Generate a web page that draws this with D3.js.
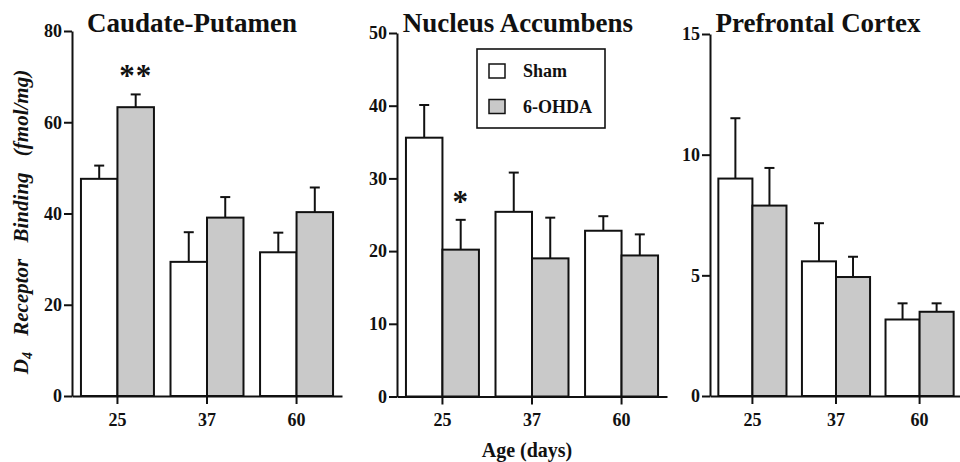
<!DOCTYPE html>
<html><head><meta charset="utf-8">
<script src="https://cdn.jsdelivr.net/npm/d3@7"></script>
<style>
body{margin:0;background:#fff;}
svg text{font-family:"Liberation Serif","Times New Roman",serif;font-weight:bold;fill:#111;}
</style></head>
<body><svg id="c" width="960" height="462"></svg>
<script>
// ---- data ----
const ages = ["25", "37", "60"];
const seriesNames = ["Sham", "6-OHDA"];
const regions = ["Caudate-Putamen", "Nucleus Accumbens", "Prefrontal Cortex"];
const shamCP = [47.6, 29.4, 31.5];
const shamCPErr = [2.9, 6.5, 4.3];
const ohdaCP = [63.3, 39.1, 40.3];
const ohdaCPErr = [2.8, 4.5, 5.4];
const shamNA = [35.6, 25.4, 22.8];
const shamNAErr = [4.5, 5.4, 2.0];
const ohdaNA = [20.2, 19.0, 19.4];
const ohdaNAErr = [4.1, 5.6, 2.9];
const shamPC = [9.01, 5.58, 3.17];
const shamPCErr = [2.5, 1.58, 0.67];
const ohdaPC = [7.89, 4.93, 3.49];
const ohdaPCErr = [1.56, 0.84, 0.35];
const ticksCP = [0, 20, 40, 60, 80];
const ticksNA = [0, 10, 20, 30, 40, 50];
const ticksPC = [0, 5, 10, 15];
const sigCP = ["**", "", ""];
const sigNA = ["*", "", ""];
const sigPC = ["", "", ""];
const yTitle = "D4 Receptor Binding (fmol/mg)";
const xTitle = "Age (days)";

// ---- layout ----
const panels = [
  {name: regions[0], sham: shamCP, shamErr: shamCPErr, ohda: ohdaCP, ohdaErr: ohdaCPErr, ticks: ticksCP, sig: sigCP, x0: 72, x1: 342, yb: 396, yt: 31, tx: 192},
  {name: regions[1], sham: shamNA, shamErr: shamNAErr, ohda: ohdaNA, ohdaErr: ohdaNAErr, ticks: ticksNA, sig: sigNA, x0: 397, x1: 667, yb: 396.5, yt: 33, tx: 518},
  {name: regions[2], sham: shamPC, shamErr: shamPCErr, ohda: ohdaPC, ohdaErr: ohdaPCErr, ticks: ticksPC, sig: sigPC, x0: 710, x1: 962, yb: 396, yt: 34, tx: 818}
];
const fills = {"Sham": "#ffffff", "6-OHDA": "#c9c9c9"};
const svg = d3.select("#c");

panels.forEach(p => {
  const g = svg.append("g");
  const x = d3.scaleBand().domain(ages).range([p.x0, p.x1]).paddingInner(0.185).paddingOuter(0.1);
  const xs = d3.scaleBand().domain(seriesNames).range([0, x.bandwidth()]);
  const y = d3.scaleLinear().domain([0, d3.max(p.ticks)]).range([p.yb, p.yt]);

  const rows = [];
  ages.forEach((a, i) => {
    rows.push({age: a, s: "Sham", v: p.sham[i], e: p.shamErr[i], sig: ""});
    rows.push({age: a, s: "6-OHDA", v: p.ohda[i], e: p.ohdaErr[i], sig: p.sig[i]});
  });

  const eb = g.selectAll(".eb").data(rows).enter().append("g");
  eb.append("line")
    .attr("x1", d => x(d.age) + xs(d.s) + xs.bandwidth() / 2)
    .attr("x2", d => x(d.age) + xs(d.s) + xs.bandwidth() / 2)
    .attr("y1", d => y(d.v)).attr("y2", d => y(d.v + d.e))
    .attr("stroke", "#111").attr("stroke-width", 2);
  eb.append("line")
    .attr("x1", d => x(d.age) + xs(d.s) + xs.bandwidth() / 2 - 5)
    .attr("x2", d => x(d.age) + xs(d.s) + xs.bandwidth() / 2 + 5)
    .attr("y1", d => y(d.v + d.e)).attr("y2", d => y(d.v + d.e))
    .attr("stroke", "#111").attr("stroke-width", 2);

  g.selectAll(".bar").data(rows).enter().append("rect")
    .attr("x", d => x(d.age) + xs(d.s))
    .attr("width", xs.bandwidth())
    .attr("y", d => y(d.v))
    .attr("height", d => y(0) - y(d.v))
    .attr("fill", d => fills[d.s])
    .attr("stroke", "#111").attr("stroke-width", 2);

  g.selectAll(".sig").data(rows.filter(d => d.sig)).enter().append("text")
    .attr("x", d => x(d.age) + xs(d.s) + xs.bandwidth() / 2)
    .attr("y", d => y(d.v + d.e) - 8)
    .attr("text-anchor", "middle")
    .style("font-size", "31px")
    .style("letter-spacing", "1px")
    .text(d => d.sig);

  const ya = g.append("g").attr("transform", `translate(${p.x0},0)`)
    .call(d3.axisLeft(y).tickValues(p.ticks).tickSize(8).tickSizeOuter(0).tickPadding(2));
  const xa = g.append("g").attr("transform", `translate(0,${p.yb})`)
    .call(d3.axisBottom(x).tickSize(8).tickSizeOuter(0).tickPadding(9));
  [ya, xa].forEach(a => {
    a.selectAll("path.domain").attr("stroke", "#111").attr("stroke-width", 2);
    a.selectAll(".tick line").attr("stroke", "#111").attr("stroke-width", 2);
    a.selectAll("text").style("font-size", "18px").style("font-family", "Liberation Serif, serif").style("font-weight", "bold").attr("fill", "#111");
  });

  g.append("text").attr("x", p.tx).attr("y", 32).attr("text-anchor", "middle")
    .style("font-size", "27px").text(p.name);
});

// legend
const lg = svg.append("g");
lg.append("rect").attr("x", 477).attr("y", 49).attr("width", 128).attr("height", 79)
  .attr("fill", "#fff").attr("stroke", "#111").attr("stroke-width", 1.6);
seriesNames.forEach((s, i) => {
  lg.append("rect").attr("x", 489).attr("y", 64 + i * 35.5).attr("width", 16).attr("height", 14)
    .attr("fill", fills[s]).attr("stroke", "#111").attr("stroke-width", 1.5);
  lg.append("text").attr("x", 523).attr("y", 77 + i * 36).style("font-size", "18px").text(s);
});

svg.append("text").attr("x", 527).attr("y", 457).attr("text-anchor", "middle")
  .style("font-size", "20px").text(xTitle);

const yt = svg.append("text").attr("transform", "translate(28,222) rotate(-90)")
  .attr("text-anchor", "middle").style("font-size", "21px").style("font-style", "italic")
  .style("word-spacing", "11px");
const parts = yTitle.split(" ");
yt.append("tspan").text(parts[0].charAt(0));
yt.append("tspan").attr("dy", 4).style("font-size", "14px").text(parts[0].slice(1));
yt.append("tspan").attr("dy", -4).text(" " + parts.slice(1).join(" "));
</script></body></html>
